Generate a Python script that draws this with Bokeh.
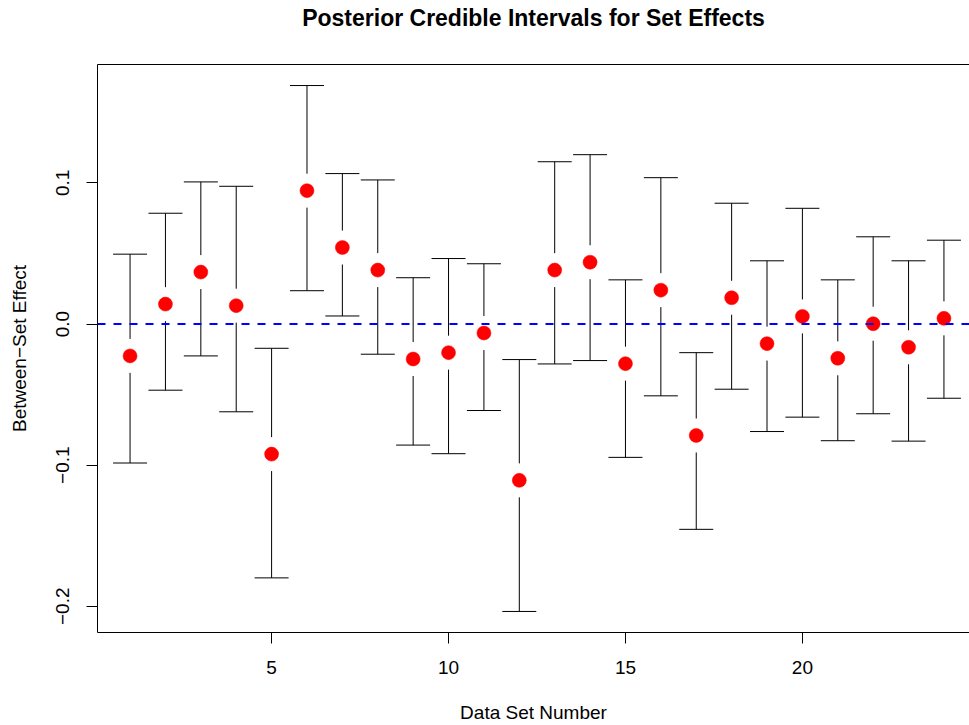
from bokeh.plotting import figure
from bokeh.models import Range1d, FixedTicker, LinearAxis, Span
from bokeh.embed import file_html
from bokeh.resources import INLINE

# ---- data ----
set_number = list(range(1, 25))
estimate = [-0.0226, 0.0141, 0.0368, 0.0130, -0.0922, 0.0945, 0.0542, 0.0382,
            -0.0248, -0.0203, -0.0064, -0.1108, 0.0382, 0.0438, -0.0281, 0.0240,
            -0.0790, 0.0186, -0.0139, 0.0054, -0.0243, 0.0002, -0.0165, 0.0040]
upper = [0.0495, 0.0785, 0.1007, 0.0976, -0.0172, 0.1690, 0.1066, 0.1021,
         0.0328, 0.0464, 0.0427, -0.0252, 0.1150, 0.1200, 0.0313, 0.1037,
         -0.0203, 0.0856, 0.0448, 0.0820, 0.0313, 0.0618, 0.0448, 0.0594]
lower = [-0.0985, -0.0469, -0.0226, -0.0622, -0.1799, 0.0236, 0.0057, -0.0214,
         -0.0858, -0.0919, -0.0613, -0.2037, -0.0283, -0.0259, -0.0945, -0.0509,
         -0.1455, -0.0462, -0.0762, -0.0660, -0.0827, -0.0636, -0.0830, -0.0526]
x_ticks = [5, 10, 15, 20]
y_ticks = [-0.2, -0.1, 0.0, 0.1]
y_tick_labels = ["\u22120.2", "\u22120.1", "0.0", "0.1"]
ref_line = 0.0

title = "Posterior Credible Intervals for Set Effects"
x_label = "Data Set Number"
y_label = "Between\u2212Set Effect"

FONT = "Liberation Sans"
FS = "19px"

# ranges (R-style 4% padding)
ymin, ymax = min(lower), max(upper)
ypad = 0.04 * (ymax - ymin)
y0, y1 = ymin - ypad, ymax + ypad
x0 = 1 - 0.04 * 23
frame_w, frame_h = 872, 569
px_per_x = 879 / (23 * 1.08)
x1 = x0 + frame_w / px_per_x

p = figure(width=969, height=725,
           x_range=Range1d(x0, x1), y_range=Range1d(y0, y1),
           output_backend="svg", toolbar_location=None,
           min_border_left=97, min_border_right=0,
           min_border_top=64, min_border_bottom=92)
p.outline_line_color = None
p.xgrid.visible = False
p.ygrid.visible = False
p.background_fill_color = "white"
p.border_fill_color = "white"

p.title.text = title
p.title.text_font = FONT
p.title.text_font_size = "23px"
p.title.text_font_style = "bold"
p.title.align = "center"
p.title.text_color = "black"
p.title.standoff = 2

# gap around points (pixels -> data)
gap = 17 * (y1 - y0) / frame_h
cap = 17 / px_per_x

up_x, up_y0, up_y1 = [], [], []
lo_x, lo_y0, lo_y1 = [], [], []
for xi, e, hi, lo in zip(set_number, estimate, upper, lower):
    if hi > e + gap:
        up_x.append(xi); up_y0.append(e + gap); up_y1.append(hi)
    if lo < e - gap:
        lo_x.append(xi); lo_y0.append(e - gap); lo_y1.append(lo)

p.segment(x0=up_x, y0=up_y0, x1=up_x, y1=up_y1, line_color="black", line_width=1)
p.segment(x0=lo_x, y0=lo_y0, x1=lo_x, y1=lo_y1, line_color="black", line_width=1)
p.segment(x0=[x - cap for x in set_number], y0=upper,
          x1=[x + cap for x in set_number], y1=upper, line_color="black", line_width=1)
p.segment(x0=[x - cap for x in set_number], y0=lower,
          x1=[x + cap for x in set_number], y1=lower, line_color="black", line_width=1)

p.add_layout(Span(location=ref_line, dimension="width", line_color="#0000ff",
                  line_width=2, line_dash="8 8"))

p.scatter(x=set_number, y=estimate, size=14, fill_color="#ff0000", line_color="#ff0000",
          line_width=0.5)

# axes
xa = p.xaxis[0]
xa.ticker = FixedTicker(ticks=x_ticks)
xa.axis_label = x_label
ya = p.yaxis[0]
ya.ticker = FixedTicker(ticks=y_ticks)
ya.major_label_overrides = {t: l for t, l in zip(y_ticks, y_tick_labels)}
ya.axis_label = y_label
ya.major_label_orientation = "vertical"
for ax in (xa, ya):
    ax.axis_line_color = "black"
    ax.major_tick_line_color = "black"
    ax.major_tick_in = 0
    ax.major_tick_out = 11
    ax.minor_tick_line_color = None
    ax.major_label_text_font = FONT
    ax.major_label_text_font_size = FS
    ax.major_label_text_color = "black"
    ax.axis_label_text_font = FONT
    ax.axis_label_text_font_size = FS
    ax.axis_label_text_font_style = "normal"
    ax.axis_label_text_color = "black"
xa.major_label_standoff = 17
xa.axis_label_standoff = 25
ya.major_label_standoff = 17
ya.axis_label_standoff = 24

# top box edge; its blank label reserves space that lifts the title
top = LinearAxis(ticker=FixedTicker(ticks=[]), axis_line_color="black",
                 major_tick_line_color=None, minor_tick_line_color=None,
                 major_label_text_font_size="0px",
                 axis_label=" ", axis_label_text_font_size="1px",
                 axis_label_standoff=29)
p.add_layout(top, "above")

open("out.html", "w").write(file_html(p, INLINE))
